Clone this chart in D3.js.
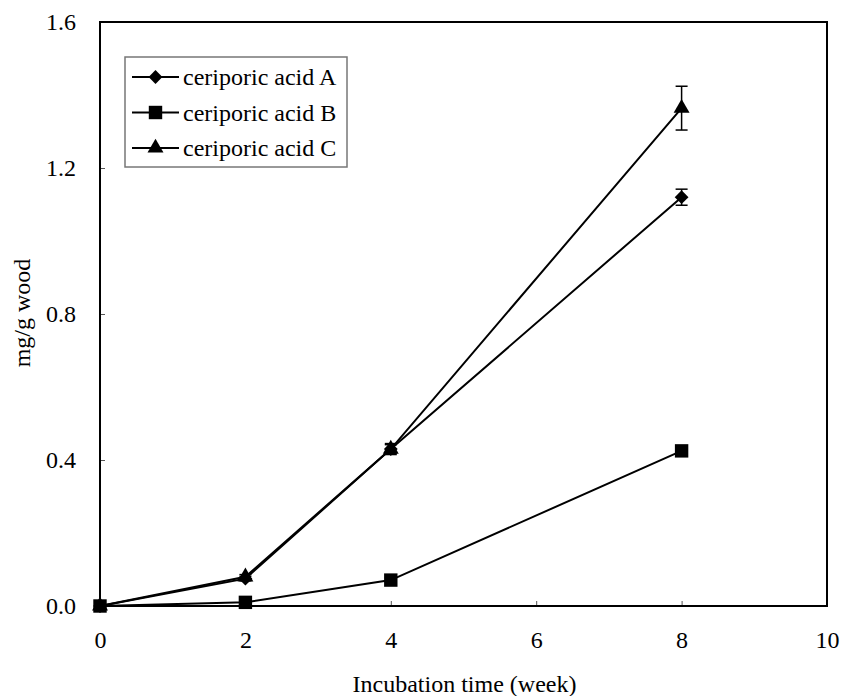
<!DOCTYPE html>
<html>
<head>
<meta charset="utf-8">
<script src="https://cdn.jsdelivr.net/npm/d3@7"></script>
<style>
  body { margin: 0; background: #fff; }
  text { font-family: "Liberation Serif", "Times New Roman", serif; fill: #000; }
</style>
</head>
<body>
<div id="chart"></div>
<script>
// data
const weeks = [0, 2, 4, 8];
const acidA = [0, 0.075, 0.43, 1.12];
const acidAErr = [0, 0.006, 0.012, 0.022];
const acidB = [0, 0.01, 0.071, 0.425];
const acidBErr = [0, 0.004, 0.006, 0.008];
const acidC = [0, 0.08, 0.43, 1.364];
const acidCErr = [0, 0.006, 0.015, 0.06];
const seriesNames = ["ceriporic acid A", "ceriporic acid B", "ceriporic acid C"];
const xTicks = [0, 2, 4, 6, 8, 10];
const yTicks = [0, 0.4, 0.8, 1.2, 1.6];

// diamond = square turned by 45 degrees
const series = [
    {name: seriesNames[0], values: acidA, err: acidAErr, symbol: d3.symbolSquare, size: 95, rot: 45},
    {name: seriesNames[1], values: acidB, err: acidBErr, symbol: d3.symbolSquare, size: 180, rot: 0},
    {name: seriesNames[2], values: acidC, err: acidCErr, symbol: d3.symbolTriangle, size: 110, rot: 0}
];

const size = {width: 841, height: 696};
const margin = {top: 22, right: 14, bottom: 90, left: 100};
const width = size.width - margin.left - margin.right;
const height = size.height - margin.top - margin.bottom;
const fontSize = "24px";

const svg = d3.select("#chart").append("svg")
    .attr("width", size.width)
    .attr("height", size.height);

const g = svg.append("g")
    .attr("transform", "translate(" + margin.left + "," + margin.top + ")");

const xScale = d3.scaleLinear().domain([0, 10]).range([0, width]);
const yScale = d3.scaleLinear().domain([0, 1.6]).range([height, 0]);

// axes with inward ticks
const xAxisG = g.append("g")
    .attr("transform", "translate(0," + height + ")")
    .call(d3.axisBottom(xScale).tickValues(xTicks).tickSize(-5).tickPadding(25).tickFormat(d3.format("d")));
const yAxisG = g.append("g")
    .call(d3.axisLeft(yScale).tickValues(yTicks).tickSize(-5).tickPadding(24).tickFormat(d3.format(".1f")));

[xAxisG, yAxisG].forEach(ax => {
    ax.select(".domain").remove();
    ax.selectAll(".tick line").attr("stroke", "#555").attr("stroke-width", 1);
    ax.selectAll(".tick text").style("font-size", fontSize).attr("fill", "#000");
});

// frame
g.append("rect")
    .attr("x", 0).attr("y", 0)
    .attr("width", width).attr("height", height)
    .attr("fill", "none")
    .attr("stroke", "#000")
    .attr("stroke-width", 2);

const line = d3.line()
    .x((d, i) => xScale(weeks[i]))
    .y(d => yScale(d));

series.forEach(s => {
    const sg = g.append("g").attr("class", "seriesG");
    sg.append("path")
        .datum(s.values)
        .attr("d", line)
        .attr("fill", "none")
        .attr("stroke", "#000")
        .attr("stroke-width", 2);

    // error bars
    const eb = sg.selectAll(".errG")
        .data(s.values.map((v, i) => ({x: weeks[i], y: v, e: s.err[i]})).filter(d => d.e > 0))
        .join("g")
        .attr("class", "errG");
    eb.append("line")
        .attr("x1", d => xScale(d.x)).attr("x2", d => xScale(d.x))
        .attr("y1", d => yScale(d.y - d.e)).attr("y2", d => yScale(d.y + d.e))
        .attr("stroke", "#000").attr("stroke-width", 1.5);
    [-1, 1].forEach(sign => {
        eb.append("line")
            .attr("x1", d => xScale(d.x) - 6).attr("x2", d => xScale(d.x) + 6)
            .attr("y1", d => yScale(d.y + sign * d.e)).attr("y2", d => yScale(d.y + sign * d.e))
            .attr("stroke", "#000").attr("stroke-width", 1.5);
    });

    sg.selectAll(".marker")
        .data(s.values)
        .join("path")
        .attr("class", "marker")
        .attr("d", d3.symbol().type(s.symbol).size(s.size))
        .attr("transform", (d, i) => "translate(" + xScale(weeks[i]) + "," + yScale(d) + ") rotate(" + s.rot + ")")
        .attr("fill", "#000");
});

// legend
const legend = g.append("g").attr("transform", "translate(25,35)");
legend.append("rect")
    .attr("x", 0).attr("y", 0)
    .attr("width", 222).attr("height", 110)
    .attr("fill", "#fff")
    .attr("stroke", "#777")
    .attr("stroke-width", 1.5);
series.forEach((s, i) => {
    const ly = 20 + i * 35.5;
    legend.append("line")
        .attr("x1", 7).attr("x2", 54)
        .attr("y1", ly).attr("y2", ly)
        .attr("stroke", "#000").attr("stroke-width", 2);
    legend.append("path")
        .attr("d", d3.symbol().type(s.symbol).size(s.size))
        .attr("transform", "translate(30.5," + ly + ") rotate(" + s.rot + ")")
        .attr("fill", "#000");
    legend.append("text")
        .attr("x", 58).attr("y", ly)
        .attr("dy", "0.35em")
        .style("font-size", fontSize)
        .text(s.name);
});

// axis titles
svg.append("text")
    .attr("x", margin.left + width / 2 + 1)
    .attr("y", 692)
    .attr("text-anchor", "middle")
    .style("font-size", fontSize)
    .text("Incubation time (week)");

svg.append("text")
    .attr("transform", "translate(30," + 313 + ") rotate(-90)")
    .attr("text-anchor", "middle")
    .style("font-size", fontSize)
    .text("mg/g wood");
</script>
</body>
</html>
